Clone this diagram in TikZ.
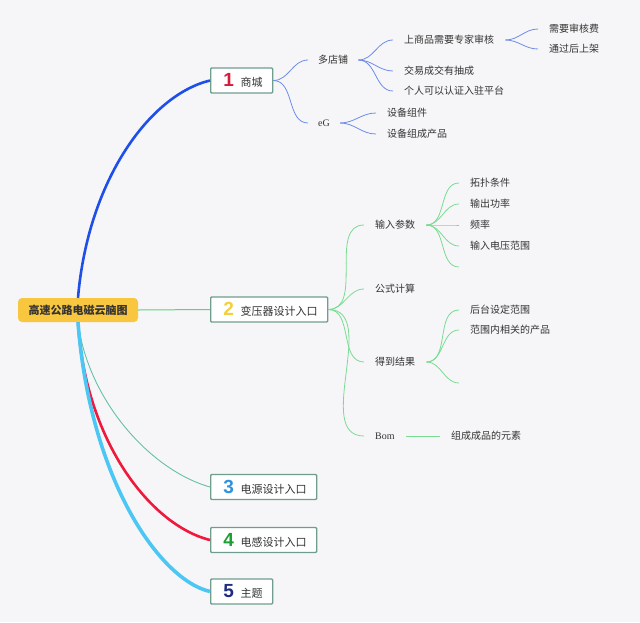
\documentclass[tikz,border=0pt]{standalone}
\usepackage{fontspec}
\setmainfont{Noto Sans CJK SC}
\newfontfamily\latinfont{Liberation Serif}
\newfontfamily\numfont{Liberation Sans}
\usetikzlibrary{positioning}

\definecolor{bgcol}{HTML}{F6F6F8}
\definecolor{rootfill}{HTML}{F9C63F}
\definecolor{boxedge}{HTML}{6F9E8F}
\definecolor{inkcol}{HTML}{333333}
\definecolor{numone}{HTML}{D81B3C}
\definecolor{numtwo}{HTML}{F3D03E}
\definecolor{numthree}{HTML}{2E93DD}
\definecolor{numfour}{HTML}{1E9E32}
\definecolor{numfive}{HTML}{1F2D80}
\definecolor{lineone}{HTML}{1E4FE8}
\definecolor{linetwo}{HTML}{5DD47A}
\definecolor{linethree}{HTML}{66BFA6}
\definecolor{linefour}{HTML}{F0193C}
\definecolor{linefive}{HTML}{4CC7F4}
\definecolor{subone}{HTML}{6D8DEA}
\definecolor{subtwo}{HTML}{7ADB92}

\newcommand{\topicnum}[2]{\makebox[16pt]{\numfont\fontsize{19}{19}\selectfont\bfseries\color{#1}#2}\hspace{4pt}}

\begin{document}
\begin{tikzpicture}[x=1pt,y=-1pt,
    rootbox/.style={fill=rootfill,rounded corners=4pt,minimum width=120pt,minimum height=24pt,
        inner sep=0pt,font=\fontsize{11}{11}\selectfont\bfseries,text=inkcol},
    topic/.style={draw=boxedge,line width=1.3pt,fill=white,rounded corners=1pt,anchor=west,
        minimum height=25pt,inner xsep=10pt,inner ysep=0pt,font=\fontsize{11}{11}\selectfont,text=inkcol},
    leaf/.style={anchor=west,inner xsep=11pt,inner ysep=2pt,font=\fontsize{10}{10}\selectfont,text=inkcol},
    branch/.style={out=0,in=180}]

    \fill[bgcol] (0,0) rectangle (640,622);
    \useasboundingbox (0,0) rectangle (640,622);

    \node[rootbox] (root) at (78,310) {高速公路电磁云脑图};

    \node[topic] (mall) at (210,80.5) {\topicnum{numone}{1}商城};
    \node[topic] (trans) at (210,309.5) {\topicnum{numtwo}{2}变压器设计入口};
    \node[topic] (power) at (210,487) {\topicnum{numthree}{3}电源设计入口};
    \node[topic] (induct) at (210,540) {\topicnum{numfour}{4}电感设计入口};
    \node[topic] (theme) at (210,591.5) {\topicnum{numfive}{5}主题};

    \draw[lineone,line width=2.6pt] (root.north) .. controls (88,180) and (150,95) .. (mall.west);
    \draw[linetwo,line width=1pt] (root.east) -- (trans.west);
    \draw[linethree,line width=0.9pt] (root.south) .. controls (88,400) and (150,470) .. (power.west);
    \draw[linefour,line width=2.6pt] (root.south) .. controls (85,440) and (150,525) .. (induct.west);
    \draw[linefive,line width=3.6pt] (root.south) .. controls (90,480) and (160,580) .. (theme.west);

    \node[leaf,inner xsep=10pt] (shops) at (308,60) {多店铺};
    \node[leaf,inner xsep=10pt] (eg) at (308,123) {\latinfont eG};
    \node[leaf] (review) at (393,40) {上商品需要专家审核};
    \node[leaf] (commission) at (393,71) {交易成交有抽成};
    \node[leaf] (personal) at (393,91) {个人可以认证入驻平台};
    \node[leaf] (reviewfee) at (538,29) {需要审核费};
    \node[leaf] (listing) at (538,49) {通过后上架};
    \node[leaf] (parts) at (376,113) {设备组件};
    \node[leaf] (product) at (376,134) {设备组成产品};

    \draw[subone,line width=0.8pt] (mall.east) to[branch] (shops.west);
    \draw[subone,line width=0.8pt] (mall.east) to[branch] (eg.west);
    \foreach \c in {review,commission,personal}
        \draw[subone,line width=0.8pt] (shops.east) to[branch] (\c.west);
    \foreach \c in {reviewfee,listing}
        \draw[subone,line width=0.8pt] (review.east) to[branch] (\c.west);
    \foreach \c in {parts,product}
        \draw[subone,line width=0.8pt] (eg.east) to[branch] (\c.west);

    \node[leaf] (input) at (364,225) {输入参数};
    \node[leaf] (formula) at (364,289) {公式计算};
    \node[leaf] (result) at (364,362) {得到结果};
    \node[leaf] (bom) at (364,436) {\latinfont Bom};
    \node[leaf] (topology) at (459,183) {拓扑条件};
    \node[leaf] (outpower) at (459,204) {输出功率};
    \node[leaf] (freq) at (459,225) {频率};
    \node[leaf] (voltage) at (459,246) {输入电压范围};
    \coordinate (inputend) at (459,267);
    \node[leaf] (range) at (459,310) {后台设定范围};
    \node[leaf] (related) at (459,330) {范围内相关的产品};
    \coordinate (resultend) at (459,383);
    \node[leaf] (element) at (440,436) {组成成品的元素};

    \foreach \c in {input,formula,result,bom}
        \draw[subtwo,line width=0.8pt] (trans.east) to[branch] (\c.west);
    \foreach \c in {topology.west,outpower.west,freq.west,voltage.west,inputend}
        \draw[subtwo,line width=0.8pt] (input.east) to[branch] (\c);
    \foreach \c in {range.west,related.west,resultend}
        \draw[subtwo,line width=0.8pt] (result.east) to[branch] (\c);
    \draw[subtwo,line width=0.8pt] (bom.east) -- (element.west);
\end{tikzpicture}
\end{document}
